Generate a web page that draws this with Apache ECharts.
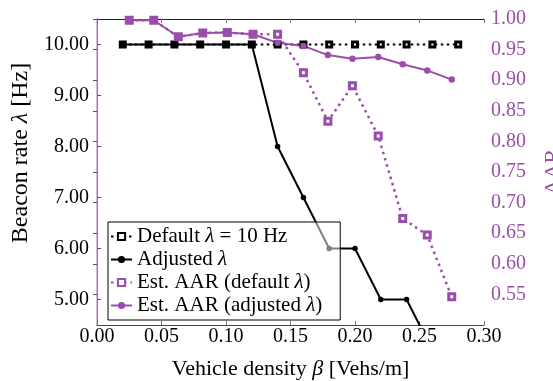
<!DOCTYPE html>
<html>
<head>
<meta charset="utf-8">
<script src="https://cdn.jsdelivr.net/npm/echarts@6/dist/echarts.min.js"></script>
<style>
  html, body { margin: 0; padding: 0; background: #fff; }
  #chart { width: 553px; height: 381px; }
</style>
</head>
<body>
<div id="chart"></div>
<script>
// beacon rate data (left axis)
const lambdaX = [0.02, 0.04, 0.06, 0.08, 0.10, 0.12, 0.14, 0.16, 0.18, 0.20, 0.22, 0.24, 0.26, 0.28];
const defaultLambda = [10, 10, 10, 10, 10, 10, 10, 10, 10, 10, 10, 10, 10, 10];
const adjustedLambda = [10, 10, 10, 10, 10, 10, 8, 7, 6, 6, 5, 5, 4, 4];

// AAR data (right axis)
const aarX = [0.025, 0.044, 0.063, 0.082, 0.101, 0.121, 0.140, 0.160, 0.179, 0.198, 0.218, 0.237, 0.256, 0.275];
const aarDefault = [0.998, 0.998, 0.971, 0.977, 0.978, 0.975, 0.975, 0.912, 0.833, 0.891, 0.809, 0.674, 0.647, 0.546];
const aarAdjusted = [0.998, 0.998, 0.971, 0.977, 0.978, 0.975, 0.961, 0.956, 0.941, 0.935, 0.938, 0.926, 0.916, 0.901];

// tick labels
const leftTicks = [5, 6, 7, 8, 9, 10];
const rightTicks = [0.55, 0.60, 0.65, 0.70, 0.75, 0.80, 0.85, 0.90, 0.95, 1.00];

const serif = "Liberation Serif";
const purple = "#9a4eab";
const purpleLight = "#c9a2d3";

const pairs = (xs, ys) => xs.map((x, i) => [x, ys[i]]);

const chart = echarts.init(document.getElementById("chart"));

const option = {
  animation: false,
  grid: { left: 97, right: 69, top: 19, bottom: 56, containLabel: false, outerBoundsMode: "none" },
  legend: {
    orient: "vertical",
    left: 108,
    top: 222,
    padding: [4, 18, 4, 2],
    itemGap: 2,
    itemWidth: 21,
    itemHeight: 9,
    backgroundColor: "rgba(255,255,255,0.5)",
    borderColor: "#000",
    borderWidth: 1,
    borderRadius: 0,
    textStyle: {
      fontFamily: serif,
      fontSize: 21,
      lineHeight: 20,
      color: "#000",
      rich: {
        i: { fontFamily: serif, fontSize: 21, fontStyle: "italic", color: "#000" }
      }
    },
    formatter: function (name) {
      return name.replace("λ", "{i|λ}");
    },
    data: ["Default λ = 10 Hz", "Adjusted λ", "Est. AAR (default λ)", "Est. AAR (adjusted λ)"]
  },
  xAxis: [
    {
      type: "value",
      min: 0,
      max: 0.3,
      interval: 0.05,
      name: "Vehicle density {i|β} [Vehs/m]",
      nameLocation: "middle",
      nameGap: 33,
      nameTextStyle: {
        fontFamily: serif, fontSize: 22, color: "#000",
        rich: { i: { fontFamily: serif, fontSize: 22, fontStyle: "italic" } }
      },
      axisLine: { lineStyle: { color: "#444", width: 1 } },
      axisTick: { inside: true, length: 4, lineStyle: { color: "#777" } },
      axisLabel: {
        margin: 2,
        fontFamily: serif, fontSize: 20, color: "#000",
        formatter: (v) => v.toFixed(2)
      },
      splitLine: { show: false }
    },
    {
      type: "value",
      position: "top",
      min: 0,
      max: 0.3,
      interval: 0.05,
      axisLine: { lineStyle: { color: "#222", width: 1 } },
      axisTick: { inside: true, length: 4, lineStyle: { color: "#777" } },
      axisLabel: { show: false },
      splitLine: { show: false }
    }
  ],
  yAxis: [
    {
      type: "value",
      min: 4.5,
      max: 10.5,
      name: "Beacon rate {i|λ} [Hz]",
      nameLocation: "middle",
      nameRotate: 90,
      nameGap: 62,
      nameTextStyle: {
        fontFamily: serif, fontSize: 24, color: "#000",
        padding: [0, 0, 0, 38],
        rich: { i: { fontFamily: serif, fontSize: 24, fontStyle: "italic" } }
      },
      axisLine: { show: true, lineStyle: { color: "#000", width: 1 } },
      axisTick: { inside: true, length: 4, customValues: leftTicks, lineStyle: { color: "#555" } },
      axisLabel: {
        margin: 8,
        fontFamily: serif, fontSize: 20, color: "#000",
        customValues: leftTicks,
        formatter: (v) => v.toFixed(2)
      },
      splitLine: { show: false }
    },
    {
      type: "value",
      position: "right",
      min: 0.5,
      max: 1.0,
      name: "AAR",
      nameLocation: "middle",
      nameRotate: 90,
      nameGap: 58,
      nameTextStyle: { fontFamily: serif, fontSize: 22, color: purple },
      axisLine: { show: true, lineStyle: { color: purpleLight, width: 1.5 } },
      axisTick: { inside: true, length: 4, customValues: rightTicks, lineStyle: { color: "#555" } },
      axisLabel: {
        margin: 7,
        fontFamily: serif, fontSize: 20, color: purple,
        customValues: rightTicks,
        formatter: (v) => v.toFixed(2)
      },
      splitLine: { show: false }
    }
  ],
  series: [
    {
      name: "Default λ = 10 Hz",
      type: "line",
      yAxisIndex: 0,
      data: pairs(lambdaX, defaultLambda),
      symbol: "rect",
      symbolSize: 5,
      showAllSymbol: true,
      lineStyle: { color: "#000", width: 2.2, type: [2.5, 3.5] },
      itemStyle: { color: "#fff", borderColor: "#000", borderWidth: 3 }
    },
    {
      name: "Adjusted λ",
      type: "line",
      yAxisIndex: 0,
      data: pairs(lambdaX, adjustedLambda),
      symbol: "circle",
      symbolSize: 5.5,
      showAllSymbol: true,
      lineStyle: { color: "#000", width: 2 },
      itemStyle: { color: "#000", borderWidth: 0 }
    },
    {
      name: "Est. AAR (default λ)",
      type: "line",
      yAxisIndex: 1,
      data: pairs(aarX, aarDefault),
      symbol: "rect",
      symbolSize: 6,
      showAllSymbol: true,
      lineStyle: { color: purple, width: 2.5, type: [2.5, 4] },
      itemStyle: { color: "#fff", borderColor: purple, borderWidth: 3 }
    },
    {
      name: "Est. AAR (adjusted λ)",
      type: "line",
      yAxisIndex: 1,
      data: pairs(aarX, aarAdjusted),
      symbol: "circle",
      symbolSize: 6.5,
      showAllSymbol: true,
      lineStyle: { color: purple, width: 2 },
      itemStyle: { color: purple, borderWidth: 0 }
    }
  ]
};

chart.setOption(option);
</script>
</body>
</html>
